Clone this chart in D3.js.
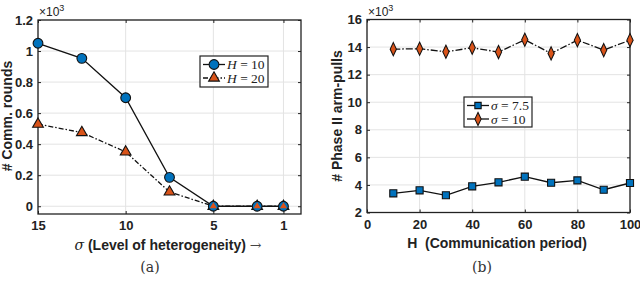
<!DOCTYPE html>
<html><head><meta charset="utf-8">
<script src="https://cdn.jsdelivr.net/npm/d3@7"></script>
<style>
body{margin:0;background:#fff;}
</style></head>
<body><svg id="c" width="640" height="294" font-family="'Liberation Sans',Arial,sans-serif"></svg>
<script>
// ---- data: panel (a)
const sigmaVals = [15, 12.5, 10, 7.5, 5, 2.5, 1];
const roundsH10 = [1.05, 0.953, 0.699, 0.186, 0, 0, 0];
const roundsH20 = [0.529, 0.475, 0.35, 0.092, 0, 0, 0];
const aXTicks = [15, 10, 5, 1];
const aYTicks = [0, 0.2, 0.4, 0.6, 0.8, 1, 1.2];
// ---- data: panel (b)
const periodH = [10, 20, 30, 40, 50, 60, 70, 80, 90, 100];
const pullsSig75 = [3.39, 3.61, 3.25, 3.9, 4.19, 4.6, 4.16, 4.33, 3.65, 4.14];
const pullsSig10 = [13.85, 13.88, 13.66, 13.95, 13.64, 14.53, 13.54, 14.5, 13.78, 14.5];
const bXTicks = [0, 20, 40, 60, 80, 100];
const bYTicks = [2, 4, 6, 8, 10, 12, 14, 16];

const BLUE = "#0072BD", ORANGE = "#D95319";
const SERIF = "'DejaVu Serif','Liberation Serif',serif";
const LSERIF = "'Liberation Serif','DejaVu Serif',serif";
const svg = d3.select("#c");

function panel(o){
  const g = svg.append("g");
  const x = d3.scaleLinear().domain(o.xd).range([o.l, o.r]);
  const y = d3.scaleLinear().domain(o.yd).range([o.b, o.t]);
  g.selectAll(".gx").data(o.xt).enter().append("line")
    .attr("x1", d=>x(d)).attr("x2", d=>x(d)).attr("y1", o.t).attr("y2", o.b)
    .attr("stroke", "#e3e3e3").attr("stroke-width", 1);
  g.selectAll(".gy").data(o.yt).enter().append("line")
    .attr("y1", d=>y(d)).attr("y2", d=>y(d)).attr("x1", o.l).attr("x2", o.r)
    .attr("stroke", "#e3e3e3").attr("stroke-width", 1);
  const ax = g.append("g").attr("transform", `translate(0,${o.b})`)
    .call(d3.axisBottom(x).tickValues(o.xt).tickSize(-3).tickPadding(7).tickFormat(d3.format("~g")));
  const ay = g.append("g").attr("transform", `translate(${o.l},0)`)
    .call(d3.axisLeft(y).tickValues(o.yt).tickSize(-3).tickPadding(5).tickFormat(d3.format("~g")));
  const axT = g.append("g").attr("transform", `translate(0,${o.t})`)
    .call(d3.axisTop(x).tickValues(o.xt).tickSize(-3).tickFormat(""));
  const ayR = g.append("g").attr("transform", `translate(${o.r},0)`)
    .call(d3.axisRight(y).tickValues(o.yt).tickSize(-3).tickFormat(""));
  [ax, ay, axT, ayR].forEach(a=>{
    a.attr("font-family", null);
    a.select(".domain").remove();
    a.selectAll("line").attr("stroke", "#222");
    a.selectAll("text").attr("font-size", 13).attr("font-weight", "bold").attr("fill", "#222");
  });
  g.append("rect").attr("x", o.l).attr("y", o.t).attr("width", o.r-o.l).attr("height", o.b-o.t)
    .attr("fill", "none").attr("stroke", "#222").attr("stroke-width", 1.3);
  const m = g.append("text").attr("x", o.l+1).attr("y", o.t-4).attr("font-size", 12).attr("fill","#222");
  m.append("tspan").text("×10");
  m.append("tspan").attr("dy", -5).attr("font-size", 9).text("3");
  return {g, x, y};
}

function series(p, xs, ys, o){
  const line = d3.line().x((d,i)=>p.x(xs[i])).y(d=>p.y(d));
  p.g.append("path").datum(ys).attr("d", line).attr("fill", "none")
    .attr("stroke", "#111").attr("stroke-width", 1.3).attr("stroke-dasharray", o.dash || null);
  const sym = d3.symbol().type(o.sym).size(o.size);
  p.g.selectAll(null).data(ys).enter().append("path")
    .attr("d", sym).attr("transform", (d,i)=>`translate(${p.x(xs[i])},${p.y(d)})${o.rot||""}`)
    .attr("fill", o.fill).attr("stroke", "#111").attr("stroke-width", 1.1);
}

function legend(p, x0, y0, w, h, items){
  p.g.append("rect").attr("x", x0).attr("y", y0).attr("width", w).attr("height", h)
    .attr("fill", "#fff").attr("stroke", "#222").attr("stroke-width", 1.2);
  items.forEach((it,i)=>{
    const yy = y0 + 8.5 + i*13.5;
    p.g.append("line").attr("x1", x0+3).attr("x2", x0+25).attr("y1", yy).attr("y2", yy)
      .attr("stroke", "#111").attr("stroke-width", 1.3).attr("stroke-dasharray", it.dash||null);
    p.g.append("path").attr("d", d3.symbol().type(it.sym).size(it.size))
      .attr("transform", `translate(${x0+14},${yy})${it.rot||""}`)
      .attr("fill", it.fill).attr("stroke", "#111").attr("stroke-width", 1.1);
    const t = p.g.append("text").attr("x", x0+27).attr("y", yy+4.5)
      .attr("font-family", LSERIF).attr("font-size", 13.5).attr("fill","#222");
    t.append("tspan").attr("font-style", "italic").text(it.v);
    t.append("tspan").text(" = " + it.n);
  });
}

// panel a
const A = panel({l:38, r:301, t:20, b:214, xd:[15,0], yd:[-0.05,1.2], xt:aXTicks, yt:aYTicks});
series(A, sigmaVals, roundsH20, {sym:d3.symbolTriangle, size:50, fill:ORANGE, dash:"5,2,1.5,2"});
series(A, sigmaVals, roundsH10, {sym:d3.symbolCircle, size:75, fill:BLUE});
const zeroIdx = sigmaVals.map((s,i)=>i).filter(i=>roundsH20[i]===0);
A.g.selectAll(null).data(zeroIdx).enter().append("path")
  .attr("d", d3.symbol().type(d3.symbolTriangle).size(22))
  .attr("transform", i=>`translate(${A.x(sigmaVals[i])},${A.y(roundsH20[i])})`)
  .attr("fill", ORANGE);
legend(A, 200, 56, 68, 31, [
  {sym:d3.symbolCircle, size:75, fill:BLUE, v:"H", n:"10"},
  {sym:d3.symbolTriangle, size:50, fill:ORANGE, v:"H", n:"20", dash:"5,2,1.5,2"}
]);
svg.append("text").attr("transform","translate(12,116) rotate(-90)").attr("text-anchor","middle")
  .attr("font-size",14).attr("font-weight","bold").attr("fill","#222").text("# Comm. rounds");
const xa = svg.append("text").attr("x",168).attr("y",250).attr("text-anchor","middle")
  .attr("font-size",14).attr("font-weight","bold").attr("fill","#222");
xa.append("tspan").attr("font-family",SERIF).attr("font-style","italic").attr("font-weight","normal").text("σ");
xa.append("tspan").text(" (Level of heterogeneity) ");
xa.append("tspan").attr("font-family",SERIF).attr("font-weight","normal").attr("fill","#444").text("→");
svg.append("text").attr("x",150).attr("y",272).attr("text-anchor","middle")
  .attr("font-family",SERIF).attr("font-size",14).attr("fill","#333").text("(a)");

// panel b
const B = panel({l:367, r:630, t:19.5, b:212.5, xd:[0,100], yd:[2,16], xt:bXTicks, yt:bYTicks});
series(B, periodH, pullsSig10, {sym:d3.symbolDiamond, size:42, fill:ORANGE, dash:"7,2,1.5,2", rot:" scale(0.9,1.1)"});
series(B, periodH, pullsSig75, {sym:d3.symbolSquare, size:50, fill:BLUE});
legend(B, 464, 97, 68, 30, [
  {sym:d3.symbolSquare, size:40, fill:BLUE, v:"σ", n:"7.5"},
  {sym:d3.symbolDiamond, size:42, fill:ORANGE, v:"σ", n:"10", rot:" scale(0.9,1.1)"}
]);
svg.append("text").attr("transform","translate(342,116) rotate(-90)").attr("text-anchor","middle")
  .attr("font-size",14).attr("font-weight","bold").attr("fill","#222").text("# Phase II arm-pulls");
svg.append("text").attr("x",497).attr("y",248).attr("text-anchor","middle").attr("xml:space","preserve")
  .attr("font-size",14).attr("font-weight","bold").attr("fill","#222").text("H  (Communication period)");
svg.append("text").attr("x",482).attr("y",272).attr("text-anchor","middle")
  .attr("font-family",SERIF).attr("font-size",14).attr("fill","#333").text("(b)");
</script></body></html>
